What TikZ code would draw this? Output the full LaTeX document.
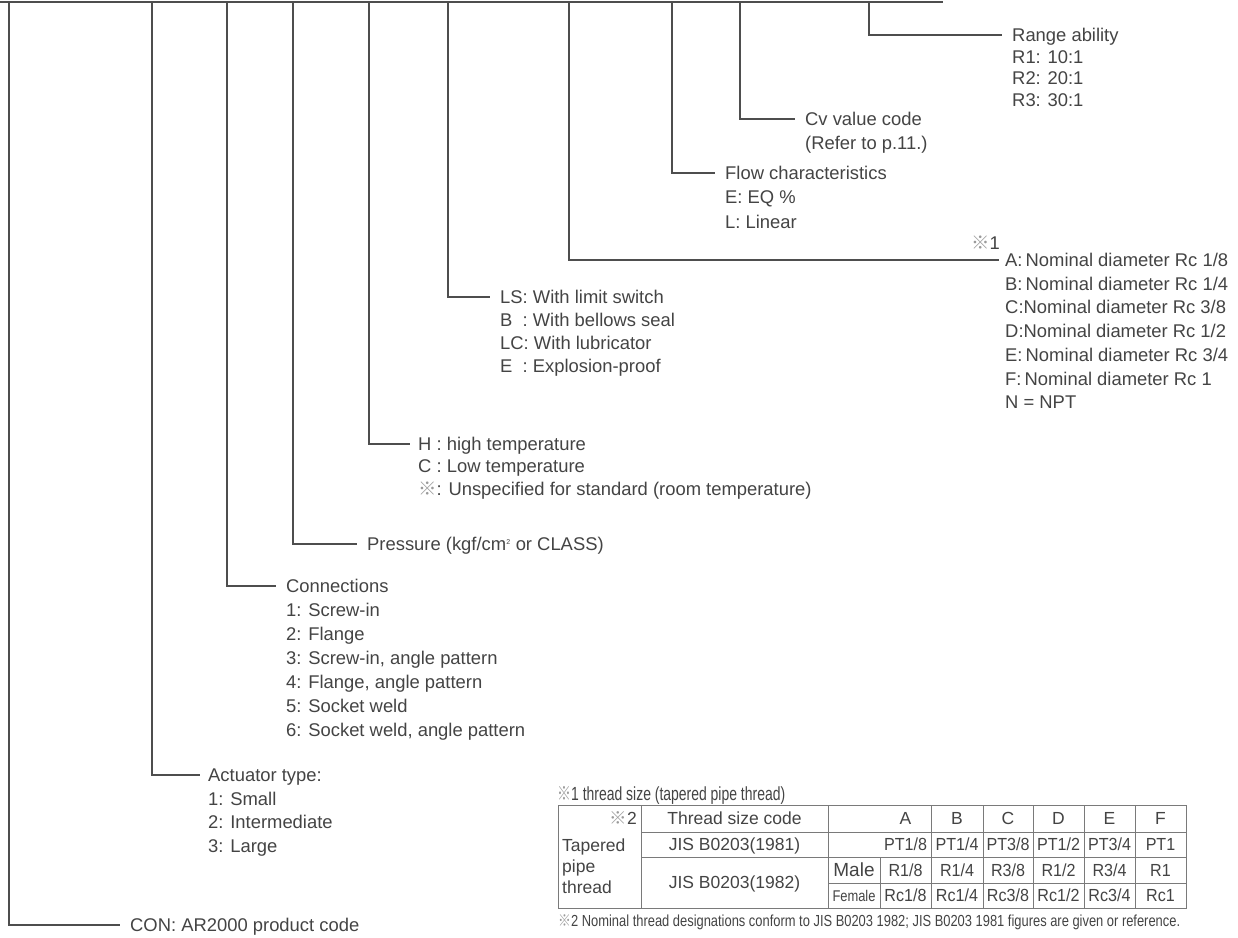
\documentclass[tikz,border=0pt]{standalone}
\usepackage{fontspec}
\usepackage{graphicx}
\setmainfont{Liberation Sans}
\newfontfamily\cjk{Noto Sans CJK JP}
\newfontfamily\narrowf{Liberation Sans}[FakeStretch=0.92]
\definecolor{txt}{HTML}{444444}
\definecolor{linec}{HTML}{4E4E4E}
\definecolor{tabline}{HTML}{7A7A7A}
\definecolor{refmark}{HTML}{9A9A9A}
\newcommand{\rmk}{{\cjk\color{refmark}※}}
\begin{document}
\begin{tikzpicture}[x=1pt,y=-1pt,
  conn/.style={draw=linec, line width=1.3pt},
  lbl/.style={anchor=west, inner sep=0pt, text height=13pt, text depth=0pt, text=txt,
              font=\fontsize{18.4}{22}\selectfont},
  tabtxt/.style={inner sep=0pt, text height=12pt, text depth=0pt, text=txt,
              font=\fontsize{17.5}{20}\selectfont},
  cell/.style={inner sep=0pt, text height=12pt, text depth=0pt, text=txt,
              font=\narrowf\fontsize{17.5}{19}\selectfont},
  tab/.style={draw=tabline, line width=0.9pt}]
\useasboundingbox (0,0) rectangle (1238,937);
\fill[white] (0,0) rectangle (1238,937);

% bus
\coordinate (busL) at (0,2);
\coordinate (busR) at (943,2);
\draw[conn] (busL) -- (busR);
\coordinate (b1) at (9,2);
\coordinate (b2) at (152,2);
\coordinate (b3) at (227,2);
\coordinate (b4) at (293,2);
\coordinate (b5) at (369,2);
\coordinate (b6) at (448,2);
\coordinate (b7) at (569,2);
\coordinate (b8) at (672,2);
\coordinate (b9) at (740,2);
\coordinate (b10) at (869,2);

% Range ability
\node[lbl] (ra) at (1012,35) {Range ability};
\foreach [count=\i] \t in {R1: 10:1, R2: 20:1, R3: 30:1}
  \node[lbl] (ra\i) at (1012,35+21.7*\i) {\t};
\draw[conn] (b10) |- ([xshift=-10pt]ra.west);

% Cv
\node[lbl] (cv) at (805,119) {Cv value code};
\node[lbl] (cv1) at (805,143) {(Refer to p.11.)};
\draw[conn] (b9) |- ([xshift=-10pt]cv.west);

% Flow
\node[lbl] (fl) at (725,173) {Flow characteristics};
\node[lbl] (fl1) at (725,197) {E: EQ \%};
\node[lbl] (fl2) at (725,222) {L: Linear};
\draw[conn] (b8) |- ([xshift=-10pt]fl.west);

% Nominal diameter
\node[lbl, anchor=east] (m1) at (1000,243) {\rmk 1};
\node[lbl] (nd) at (1005,260) {A:\,Nominal diameter Rc 1/8};
\foreach [count=\i] \t in {B:\,Nominal diameter Rc 1/4, C:Nominal diameter Rc 3/8,
   D:Nominal diameter Rc 1/2, E:\,Nominal diameter Rc 3/4, F:\,Nominal diameter Rc 1, N = NPT}
  \node[lbl] (nd\i) at (1005,260+23.7*\i) {\t};
\draw[conn] (b7) |- ([xshift=-6pt]nd.west);

% Options
\node[lbl] (ls) at (500,297) {LS: With limit switch};
\node[lbl] (ls1) at (500,320) {B\hspace{0.55em}: With bellows seal};
\node[lbl] (ls2) at (500,343) {LC: With lubricator};
\node[lbl] (ls3) at (500,366) {E\hspace{0.55em}: Explosion-proof};
\draw[conn] (b6) |- ([xshift=-10pt]ls.west);

% Temperature
\node[lbl] (ht) at (418,444) {H : high temperature};
\node[lbl] (ht1) at (418,466) {C : Low temperature};
\node[lbl] (ht2) at (418,489) {\rmk: Unspecified for standard (room temperature)};
\draw[conn] (b5) |- ([xshift=-8pt]ht.west);

% Pressure
\node[lbl] (pr) at (367,544) {Pressure (kgf/cm\textsuperscript{\scriptsize 2} or CLASS)};
\draw[conn] (b4) |- ([xshift=-10pt]pr.west);

% Connections
\node[lbl] (cn) at (286,586) {Connections};
\foreach [count=\i] \t in {1: Screw-in, 2: Flange, {3: Screw-in, angle pattern},
   {4: Flange, angle pattern}, 5: Socket weld, {6: Socket weld, angle pattern}}
  \node[lbl] (cn\i) at (286,586+24*\i) {\t};
\draw[conn] (b3) |- ([xshift=-10pt]cn.west);

% Actuator
\node[lbl] (ac) at (208,775) {Actuator type:};
\foreach [count=\i] \t in {1: Small, 2: Intermediate, 3: Large}
  \node[lbl] (ac\i) at (208,775+23.7*\i) {\t};
\draw[conn] (b2) |- ([xshift=-8pt]ac.west);

% CON
\node[lbl] (co) at (130,925) {CON: AR2000 product code};
\draw[conn] (b1) |- ([xshift=-10pt]co.west);

% Table
\node[tabtxt, anchor=west, text height=13pt, font=\fontsize{19}{20}\selectfont] (ttl) at (557,794) {\resizebox{228pt}{\height}{\rmk 1 thread size (tapered pipe thread)}};
\draw[tab] (558,805) rectangle (1186,908);
\foreach \x in {641,828,931,983,1033,1084,1135} \draw[tab] (\x,805) -- (\x,908);
\draw[tab] (880,857) -- (880,908);
\draw[tab] (641,832) -- (1186,832);
\draw[tab] (641,857) -- (1186,857);
\draw[tab] (828,883) -- (1186,883);

\node[tabtxt, anchor=east] (t2) at (637,818) {\rmk 2};
\node[tabtxt, anchor=west] (tp1) at (562,845) {Tapered};
\node[tabtxt, anchor=west] (tp2) at (562,866) {pipe};
\node[tabtxt, anchor=west] (tp3) at (562,887) {thread};
\node[tabtxt] (tsc) at (734.5,818) {Thread size code};
\node[tabtxt] (j81) at (734.5,844.5) {JIS B0203(1981)};
\node[tabtxt] (j82) at (734.5,882.5) {JIS B0203(1982)};
\node[tabtxt, text height=13pt, font=\fontsize{19}{20}\selectfont] (male) at (854,870) {Male};
\node[cell, text height=11pt, font=\fontsize{15.5}{16}\selectfont] (fem) at (854,895.5) {\resizebox{43pt}{\height}{Female}};

\foreach \c/\h/\p/\m/\f [count=\i] in {905.5/A/PT1\slash 8/R1\slash 8/Rc1\slash 8,
   957/B/PT1\slash 4/R1\slash 4/Rc1\slash 4, 1008/C/PT3\slash 8/R3\slash 8/Rc3\slash 8,
   1058.5/D/PT1\slash 2/R1\slash 2/Rc1\slash 2, 1109.5/E/PT3\slash 4/R3\slash 4/Rc3\slash 4,
   1160.5/F/PT1/R1/Rc1} {
  \node[tabtxt] (h\i) at (\c,818.5) {\h};
  \node[cell] (p\i) at (\c,844.5) {\p};
  \node[cell] (ml\i) at (\c,870) {\m};
  \node[cell] (fe\i) at (\c,895.5) {\f};
}

\node[cell, anchor=west, text height=11pt, font=\fontsize{16}{17}\selectfont] (fn) at (558,921)
  {\resizebox{622pt}{\height}{\rmk 2 Nominal thread designations conform to JIS B0203 1982; JIS B0203 1981 figures are given or reference.}};
\end{tikzpicture}
\end{document}
